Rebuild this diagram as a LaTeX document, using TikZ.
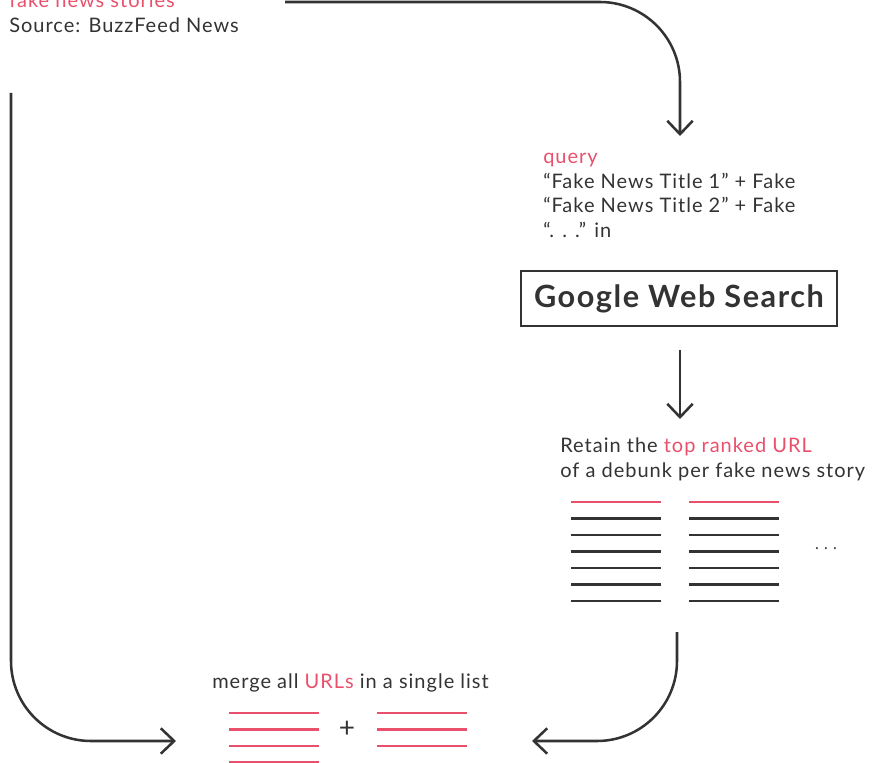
\documentclass[tikz,border=0pt]{standalone}
\usepackage{fontspec}
\setmainfont{Lato}[LetterSpace=5]
\usepackage{xcolor}
\usetikzlibrary{arrows.meta}
\definecolor{ink}{HTML}{333333}
\definecolor{hilite}{HTML}{E9506B}
\tikzset{
  every node/.style = {inner sep=0pt, text=ink},
  txt/.style        = {anchor=base west, font=\fontsize{15}{18}\selectfont},
  flow/.style       = {draw=ink, line width=1.9pt, rounded corners=60pt,
                       -{Straight Barb[length=10pt, width=19pt, line width=1.9pt]}},
  urlline/.style    = {line width=1.8pt}
}
\begin{document}
\begin{tikzpicture}[x=0.75pt, y=-0.75pt]
  \useasboundingbox (0,0) rectangle (875,763);
  % source
  \node[txt, text=hilite] (src) at (9,8) {fake news stories};
  \node[txt] (srcname) at (9,33) {Source: BuzzFeed News};
  \coordinate (feedtop) at (285,2);
  \coordinate (feedleft) at (11,93);
  % query
  \node[txt, text=hilite] (query) at (543,164) {query};
  \node[txt] (q1) at (543,189) {“Fake News Title 1” + Fake};
  \node[txt] (q2) at (543,213) {“Fake News Title 2” + Fake};
  \node[txt] (q3) at (543,238) {“. . .” in};
  \coordinate (qtip) at (680,136);
  \draw[flow] (feedtop) -| (qtip);
  % search
  \node[draw=ink, line width=1.9pt, minimum width=237pt, minimum height=41pt,
        font=\fontsize{23}{26}\selectfont\bfseries] (gws) at (679,298.5) {Google Web Search};
  \coordinate (ranktail) at (680,350);
  \coordinate (ranktip) at (680,419);
  \draw[flow] (ranktail) -- (ranktip);
  % retain
  \node[txt] (retain) at (560,452) {Retain the \textcolor{hilite}{top ranked URL}};
  \node[txt] (perstory) at (560,477) {of a debunk per fake news story};
  \foreach \col in {571,689} {
    \draw[urlline, hilite] (\col,502) -- ++(90,0);
    \foreach \i in {1,...,6}
      \draw[urlline, ink] (\col,502+16.5*\i) -- ++(90,0);
  }
  \node[font=\fontsize{12}{14}\selectfont] (more) at (826,549) {.\,\,.\,\,.};
  \coordinate (mergetail) at (677,632);
  % merge
  \node[txt] (merge) at (212,688) {merge all \textcolor{hilite}{URLs} in a single list};
  \foreach \col/\n in {229/4, 377/3}
    \foreach \i in {1,...,\n}
      \draw[urlline, hilite] (\col,713+16.5*\i-16.5) -- ++(90,0);
  \node[font=\fontsize{21}{22}\selectfont] (plus) at (347,729) {+};
  \coordinate (mergeleft) at (176,741);
  \coordinate (mergeright) at (532,741);
  \draw[flow] (feedleft) |- (mergeleft);
  \draw[flow] (mergetail) |- (mergeright);
\end{tikzpicture}
\end{document}
